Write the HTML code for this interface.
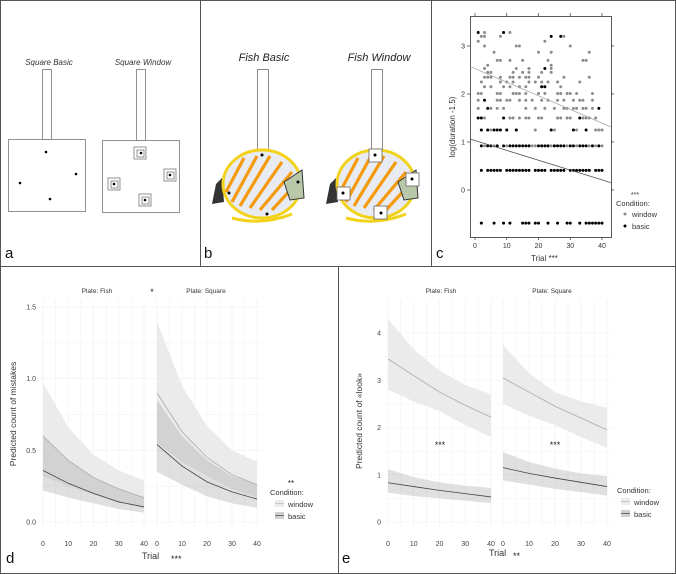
<!DOCTYPE html>
<html><head><meta charset="utf-8"><style>
html,body{margin:0;padding:0;background:#fff;}
svg{display:block;font-family:"Liberation Sans",sans-serif;}
</style></head><body>
<svg id="fig" width="676" height="574" viewBox="0 0 676 574">
<rect x="0" y="0" width="676" height="574" fill="#fff"/>
<g stroke="#555" stroke-width="1" fill="none">
<rect x="0.5" y="0.5" width="675" height="573"/>
<line x1="0" y1="266.5" x2="676" y2="266.5"/>
<line x1="200.5" y1="0" x2="200.5" y2="266"/>
<line x1="431.5" y1="0" x2="431.5" y2="266"/>
<line x1="338.5" y1="266" x2="338.5" y2="574"/>
</g>
<g>
<text x="49" y="65" font-size="8" font-style="italic" text-anchor="middle" fill="#333">Square Basic</text>
<text x="143" y="65" font-size="8" font-style="italic" text-anchor="middle" fill="#333">Square Window</text>
<g stroke="#777" fill="#fff" stroke-width="0.8">
<rect x="42.5" y="69.5" width="9" height="70"/>
<rect x="8.5" y="139.5" width="77" height="72"/>
<rect x="136.5" y="69.5" width="9" height="71"/>
<rect x="102.5" y="140.5" width="77" height="72"/>
</g>
<g fill="#000"><circle cx="46" cy="152" r="1.3"/><circle cx="76" cy="174" r="1.3"/><circle cx="20" cy="183" r="1.3"/><circle cx="50" cy="199" r="1.3"/></g>
<g stroke="#666" fill="none" stroke-width="0.7">
<rect x="134" y="147" width="12" height="12"/><rect x="137" y="150" width="7" height="7"/>
<rect x="164" y="169" width="12" height="12"/><rect x="167" y="172" width="7" height="7"/>
<rect x="108" y="178" width="12" height="12"/><rect x="111" y="181" width="7" height="7"/>
<rect x="139" y="194" width="12" height="12"/><rect x="142" y="197" width="7" height="7"/>
</g>
<g fill="#000"><circle cx="141" cy="153" r="1.3"/><circle cx="170" cy="175" r="1.3"/><circle cx="114" cy="184" r="1.3"/><circle cx="145" cy="200" r="1.3"/></g>
<text x="5" y="258" font-size="15" fill="#111">a</text>
</g>
<defs>
<g id="fishshape">
<path d="M-50,20 L-46,0 L-40,-6 L-38,18 Z" fill="#333"/>
<ellipse cx="0" cy="0" rx="39" ry="34" fill="#e8ecf2" stroke="#f2d21a" stroke-width="3"/>
<g stroke="#f59a0c" stroke-width="3.2" fill="none">
<line x1="-30" y1="18" x2="-5" y2="-28"/><line x1="-22" y1="22" x2="8" y2="-28"/>
<line x1="-12" y1="24" x2="20" y2="-22"/><line x1="-2" y1="26" x2="30" y2="-12"/>
<line x1="10" y1="26" x2="34" y2="0"/><line x1="-36" y1="8" x2="-18" y2="-26"/>
</g>
<path d="M22,-2 L40,-14 L42,14 L28,16 Z" fill="#b8c8a8" stroke="#333" stroke-width="1"/>
<path d="M-30,34 Q0,42 30,30" stroke="#f2d21a" stroke-width="3" fill="none"/>
</g>
</defs>
<g>
<text x="264" y="61" font-size="11" font-style="italic" text-anchor="middle" fill="#222">Fish Basic</text>
<text x="379" y="61" font-size="11" font-style="italic" text-anchor="middle" fill="#222">Fish Window</text>
<rect x="257.5" y="69.5" width="11" height="82" fill="#fff" stroke="#888"/>
<rect x="371.5" y="69.5" width="11" height="82" fill="#fff" stroke="#888"/>
<use href="#fishshape" x="262" y="184"/>
<use href="#fishshape" x="376" y="184"/>
<g fill="#000"><circle cx="262" cy="155" r="1.5"/><circle cx="298" cy="182" r="1.5"/><circle cx="229" cy="193" r="1.5"/><circle cx="267" cy="214" r="1.5"/></g>
<g stroke="#666" fill="#fff" stroke-width="0.8">
<rect x="369" y="149" width="13" height="13"/><rect x="406" y="173" width="13" height="13"/>
<rect x="337" y="187" width="13" height="13"/><rect x="374" y="206" width="13" height="13"/>
</g>
<g fill="#000"><circle cx="375" cy="155" r="1.5"/><circle cx="412" cy="179" r="1.5"/><circle cx="343" cy="193" r="1.5"/><circle cx="381" cy="213" r="1.5"/></g>
<text x="204" y="258" font-size="15" fill="#111">b</text>
</g>
<g id="panelc"></g>
<g id="paneld"></g>
<g id="panele"></g>
</svg>
<script>
// ---------- Panel c data ----------
const cLevels = [-0.69, 0.41, 0.92, 1.25, 1.50, 1.70, 1.87, 2.01, 2.15, 2.25, 2.35, 2.45, 2.53, 2.60, 2.70, 2.87, 3.00, 3.10, 3.20, 3.28];
const basicTrials = [
 [2,6,9,11,15,16,17,19,20,23,26,29,30,33,35,36,37,38,39,40],
 [2,4,5,6,7,8,10,11,12,13,14,15,16,17,19,20,21,22,24,25,26,27,28,30,31,32,33,34,35,36,38,39,40],
 [2,4,5,7,9,11,12,13,14,15,16,17,20,21,22,23,25,26,27,28,30,31,33,34,35,37,39],
 [2,4,6,7,8,10,13,24,31,35],
 [1,2,9,33],
 [4,39],
 [3],[], [21,22],[],[],[],[22],[],[],[],[],[],[24,27],[1,9]
];
const windowTrials = [
 [],[27],
 [3,6,10,18,19,23,24,25,29,32,36,38,40],
 [5,13,19,25,32,38,39,40],
 [3,11,12,14,16,17,20,21,26,27,29,30,34,35,36,38],
 [1,5,7,9,16,19,22,25,28,29,31,32,34,35,37],
 [1,7,8,10,11,14,16,18,21,23,26,28,31,33,34,37],
 [1,2,7,8,12,13,14,16,20,22,26,27,29,30,32,37],
 [3,5,9,11,14,16,21,27],
 [2,8,10,12,17,19,21,23,26,33],
 [3,4,5,8,11,12,14,16,17,20,28,36],
 [4,5,12,15,17,21,24],
 [3,13,17,24],
 [4,24],
 [7,8,11,15,23,34,35],
 [6,20,24,36],
 [3,13,14,30],
 [1,22],
 [2,3,8,28],
 [3,11]
];
const cFitWindow = [2.53, -0.0284];
const cFitBasic = [1.03, -0.0205];
const cXTicks = [0,10,20,30,40];
const cYTicks = [0,1,2,3];

// ---------- Panel d data ----------
const trialPts = [0,10,20,30,40];
const dFishWin = [0.60,0.43,0.31,0.23,0.17];
const dFishWinHi = [0.97,0.66,0.47,0.36,0.29];
const dFishWinLo = [0.32,0.25,0.19,0.14,0.10];
const dFishBas = [0.36,0.27,0.20,0.14,0.105];
const dFishBasHi = [0.60,0.43,0.31,0.23,0.17];
const dFishBasLo = [0.22,0.17,0.13,0.09,0.065];
const dSqWin = [0.90,0.63,0.45,0.33,0.26];
const dSqWinHi = [1.40,0.95,0.67,0.50,0.42];
const dSqWinLo = [0.55,0.42,0.32,0.23,0.17];
const dSqBas = [0.54,0.39,0.28,0.21,0.16];
const dSqBasHi = [0.85,0.60,0.43,0.32,0.26];
const dSqBasLo = [0.35,0.26,0.18,0.13,0.10];
const dYTicks = [0,0.5,1,1.5];
const dYLabels = ["0.0","0.5","1.0","1.5"];

// ---------- Panel e data ----------
const eFishWin = [3.45,3.10,2.75,2.47,2.22];
const eFishWinHi = [4.30,3.65,3.20,2.90,2.70];
const eFishWinLo = [2.80,2.55,2.35,2.05,1.80];
const eFishBas = [0.83,0.75,0.67,0.60,0.53];
const eFishBasHi = [1.12,0.95,0.84,0.77,0.72];
const eFishBasLo = [0.62,0.55,0.50,0.45,0.40];
const eSqWin = [3.05,2.75,2.45,2.20,1.95];
const eSqWinHi = [3.75,3.15,2.75,2.55,2.42];
const eSqWinLo = [2.50,2.25,2.05,1.80,1.57];
const eSqBas = [1.15,1.03,0.93,0.84,0.75];
const eSqBasHi = [1.48,1.27,1.13,1.03,0.97];
const eSqBasLo = [0.88,0.79,0.70,0.63,0.56];
const eYTicks = [0,1,2,3,4];

const NS = "http://www.w3.org/2000/svg";
function mk(parent, tag, attrs, text){
  const e = document.createElementNS(NS, tag);
  for (const k in attrs) e.setAttribute(k, attrs[k]);
  if (text !== undefined) e.textContent = text;
  parent.appendChild(e);
  return e;
}
function lin(d0,d1,r0,r1){ return v => r0 + (v-d0)/(d1-d0)*(r1-r0); }

// ---------- Panel c ----------
(function(){
  const g = document.getElementById('panelc');
  const x = lin(0,40,475,602), y = lin(0,3,190,46);
  const frame = mk(g,'rect',{x:470.5,y:16.5,width:141,height:221,fill:'#fff',stroke:'#333','stroke-width':0.8});
  
  
  cXTicks.forEach(t=>{
    mk(g,'line',{x1:x(t),x2:x(t),y1:237,y2:240,stroke:'#333','stroke-width':0.7});
    mk(g,'line',{x1:x(t),x2:x(t),y1:16,y2:13,stroke:'#333','stroke-width':0.7});
    const tl = mk(g,'text',{x:x(t),y:248,'font-size':7,'text-anchor':'middle',fill:'#333'},String(t));
    
    
  });
  cYTicks.forEach(t=>{
    mk(g,'line',{x1:467,x2:470,y1:y(t),y2:y(t),stroke:'#333','stroke-width':0.7});
    mk(g,'line',{x1:611,x2:614,y1:y(t),y2:y(t),stroke:'#333','stroke-width':0.7});
    const tl = mk(g,'text',{x:465,y:y(t)+2.5,'font-size':7,'text-anchor':'end',fill:'#333'},String(t));
    
    
  });
  windowTrials.forEach((row,i)=>row.forEach(t=>{
    const c = mk(g,'circle',{cx:x(t),cy:y(cLevels[i]),r:1.5,fill:'#8c8c8c'});
    
    
  }));
  basicTrials.forEach((row,i)=>row.forEach(t=>{
    const c = mk(g,'circle',{cx:x(t),cy:y(cLevels[i]),r:1.5,fill:'#000'});
    
    
  }));
  const tMin=-1.6, tMax=42.8;
  const lw = mk(g,'line',{x1:x(tMin),y1:y(cFitWindow[0]+cFitWindow[1]*tMin),x2:x(tMax),y2:y(cFitWindow[0]+cFitWindow[1]*tMax),stroke:'#aaa','stroke-width':0.8});
  
  
  const lb = mk(g,'line',{x1:x(tMin),y1:y(cFitBasic[0]+cFitBasic[1]*tMin),x2:x(tMax),y2:y(cFitBasic[0]+cFitBasic[1]*tMax),stroke:'#555','stroke-width':0.8});
  
  
  const yl = mk(g,'text',{x:0,y:0,'font-size':8,'text-anchor':'middle',fill:'#333',transform:'translate(455,127) rotate(-90)'},'log(duration -1.5)');
  
  
  const xl = mk(g,'text',{x:531,y:261,'font-size':8,fill:'#333'},'Trial ***');
  
  
  const l = mk(g,'g',{});
  
  
  mk(l,'text',{x:635,y:197,'font-size':7,'text-anchor':'middle',fill:'#333'},'***');
  mk(l,'text',{x:616,y:206,'font-size':7.5,fill:'#333'},'Condition:');
  mk(l,'circle',{cx:625,cy:214,r:1.5,fill:'#8c8c8c'});
  mk(l,'text',{x:632,y:217,'font-size':7.5,fill:'#333'},'window');
  mk(l,'circle',{cx:625,cy:226,r:1.5,fill:'#000'});
  mk(l,'text',{x:632,y:229,'font-size':7.5,fill:'#333'},'basic');
  const pl = mk(g,'text',{x:436,y:258,'font-size':15,fill:'#111'},'c');
  
  
})();

function drawFacet(g, x, y, xr, yTop, yBot, gridY, sets){
  for(let t=0;t<=40;t+=5){
    mk(g,'line',{x1:x(t),x2:x(t),y1:yTop,y2:yBot,stroke:'#f0f0f0','stroke-width':0.6});
  }
  gridY.forEach(v=>mk(g,'line',{x1:xr[0],x2:xr[1],y1:y(v),y2:y(v),stroke:'#f0f0f0','stroke-width':0.6}));
  sets.forEach(s=>{
    let d='M'+trialPts.map((t,i)=>x(t)+','+y(s.hi[i])).join(' L');
    d+=' L'+trialPts.slice().reverse().map((t,k)=>x(t)+','+y(s.lo[trialPts.length-1-k])).join(' L')+' Z';
    const band = mk(g,'path',{d:d,fill:s.fill,'fill-opacity':s.op});
    
    
  });
  sets.forEach(s=>{
    const ln = mk(g,'path',{d:'M'+trialPts.map((t,i)=>x(t)+','+y(s.mid[i])).join(' L'),fill:'none',stroke:s.stroke,'stroke-width':0.8});
    
    
  });
  [0,10,20,30,40].forEach(t=>{
    const tl = mk(g,'text',{x:x(t),y:yBot+19,'font-size':7,'text-anchor':'middle',fill:'#444'},String(t));
    
    
  });
}

// ---------- Panel d ----------
(function(){
  const g = document.getElementById('paneld');
  const y = lin(0,1.5,522,307);
  const xF = lin(0,40,43,144), xS = lin(0,40,157,257);
  const gridY=[0,0.25,0.5,0.75,1,1.25,1.5];
  const ff = mk(g,'g',{});  
  drawFacet(ff,xF,y,[37,150],300,527,gridY,[
    {name:'window',hi:dFishWinHi,lo:dFishWinLo,mid:dFishWin,fill:'#ebebeb',op:1,stroke:'#aaa'},
    {name:'basic',hi:dFishBasHi,lo:dFishBasLo,mid:dFishBas,fill:'#999',op:0.3,stroke:'#444'}]);
  const fs = mk(g,'g',{});  
  drawFacet(fs,xS,y,[151,263],300,527,gridY,[
    {name:'window',hi:dSqWinHi,lo:dSqWinLo,mid:dSqWin,fill:'#ebebeb',op:1,stroke:'#aaa'},
    {name:'basic',hi:dSqBasHi,lo:dSqBasLo,mid:dSqBas,fill:'#999',op:0.3,stroke:'#444'}]);
  dYTicks.forEach((v,i)=>{
    const tl = mk(g,'text',{x:36,y:y(v)+2.5,'font-size':7,'text-anchor':'end',fill:'#444'},dYLabels[i]);
    
    
  });
  mk(g,'text',{x:97,y:293,'font-size':6.5,'text-anchor':'middle',fill:'#333'},'Plate: Fish');
  mk(g,'text',{x:152,y:295,'font-size':9,'text-anchor':'middle',fill:'#222'},'*');
  mk(g,'text',{x:206,y:293,'font-size':6.5,'text-anchor':'middle',fill:'#333'},'Plate: Square');
  const yl = mk(g,'text',{x:0,y:0,'font-size':8.5,'text-anchor':'middle',fill:'#333',transform:'translate(16,414) rotate(-90)'},'Predicted count of mistakes');
   
  const xl = mk(g,'text',{x:142,y:559,'font-size':9,fill:'#333'},'Trial');
   
  mk(g,'text',{x:171,y:562,'font-size':9,fill:'#222'},'***');
  const l = mk(g,'g',{});  
  mk(l,'text',{x:291,y:486,'font-size':8,'text-anchor':'middle',fill:'#222'},'**');
  mk(l,'text',{x:270,y:495,'font-size':7.5,fill:'#333'},'Condition:');
  mk(l,'rect',{x:275,y:500,width:9,height:7,fill:'#ececec'});
  mk(l,'line',{x1:275,x2:284,y1:503.5,y2:503.5,stroke:'#bbb','stroke-width':0.7});
  mk(l,'text',{x:288,y:507,'font-size':7.5,fill:'#333'},'window');
  mk(l,'rect',{x:275,y:512,width:9,height:7,fill:'#d0d0d0'});
  mk(l,'line',{x1:275,x2:284,y1:515.5,y2:515.5,stroke:'#444','stroke-width':0.7});
  mk(l,'text',{x:288,y:519,'font-size':7.5,fill:'#333'},'basic');
  const pl = mk(g,'text',{x:6,y:563,'font-size':15,fill:'#111'},'d');
   
})();

// ---------- Panel e ----------
(function(){
  const g = document.getElementById('panele');
  const y = lin(0,4,522,333);
  const xF = lin(0,40,388,491), xS = lin(0,40,503,607);
  const gridY=[0,0.5,1,1.5,2,2.5,3,3.5,4];
  const ff = mk(g,'g',{});  
  drawFacet(ff,xF,y,[382,497],300,527,gridY,[
    {name:'window',hi:eFishWinHi,lo:eFishWinLo,mid:eFishWin,fill:'#ebebeb',op:1,stroke:'#aaa'},
    {name:'basic',hi:eFishBasHi,lo:eFishBasLo,mid:eFishBas,fill:'#999',op:0.3,stroke:'#444'}]);
  const fs = mk(g,'g',{});  
  drawFacet(fs,xS,y,[498,613],300,527,gridY,[
    {name:'window',hi:eSqWinHi,lo:eSqWinLo,mid:eSqWin,fill:'#ebebeb',op:1,stroke:'#aaa'},
    {name:'basic',hi:eSqBasHi,lo:eSqBasLo,mid:eSqBas,fill:'#999',op:0.3,stroke:'#444'}]);
  eYTicks.forEach(v=>{
    const tl = mk(g,'text',{x:381,y:y(v)+2.5,'font-size':7,'text-anchor':'end',fill:'#444'},String(v));
    
    
  });
  mk(g,'text',{x:441,y:293,'font-size':6.5,'text-anchor':'middle',fill:'#333'},'Plate: Fish');
  mk(g,'text',{x:552,y:293,'font-size':6.5,'text-anchor':'middle',fill:'#333'},'Plate: Square');
  mk(g,'text',{x:440,y:448,'font-size':9,'text-anchor':'middle',fill:'#222'},'***');
  mk(g,'text',{x:555,y:448,'font-size':9,'text-anchor':'middle',fill:'#222'},'***');
  const yl = mk(g,'text',{x:0,y:0,'font-size':8.5,'text-anchor':'middle',fill:'#333',transform:'translate(362,421) rotate(-90)'},'Predicted count of «look»');
   
  const xl = mk(g,'text',{x:489,y:556,'font-size':9,fill:'#333'},'Trial');
   
  mk(g,'text',{x:513,y:559,'font-size':9,fill:'#222'},'**');
  const l = mk(g,'g',{});  
  mk(l,'text',{x:617,y:493,'font-size':7.5,fill:'#333'},'Condition:');
  mk(l,'rect',{x:621,y:498,width:9,height:7,fill:'#ececec'});
  mk(l,'line',{x1:621,x2:630,y1:501.5,y2:501.5,stroke:'#bbb','stroke-width':0.7});
  mk(l,'text',{x:634,y:505,'font-size':7.5,fill:'#333'},'window');
  mk(l,'rect',{x:621,y:510,width:9,height:7,fill:'#d0d0d0'});
  mk(l,'line',{x1:621,x2:630,y1:513.5,y2:513.5,stroke:'#444','stroke-width':0.7});
  mk(l,'text',{x:634,y:517,'font-size':7.5,fill:'#333'},'basic');
  const pl = mk(g,'text',{x:342,y:563,'font-size':15,fill:'#111'},'e');
   
})();
</script>
</body></html>
